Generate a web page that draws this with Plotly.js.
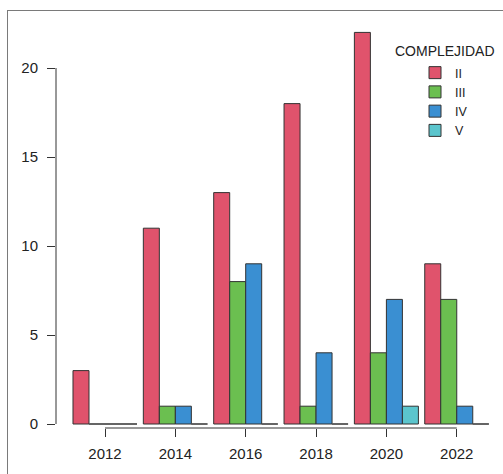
<!DOCTYPE html>
<html>
<head>
<meta charset="utf-8">
<script src="https://cdn.plot.ly/plotly-3.0.1.min.js"></script>
<style>
  html, body { margin: 0; padding: 0; background: #fff; }
  #wrap { position: relative; width: 503px; height: 474px; }
  #chart { width: 503px; height: 474px; }
  #frame { position: absolute; left: 7px; top: 10px; width: 496px; height: 464px;
           border-left: 1px solid #7a7a7a; border-top: 1px solid #7a7a7a; pointer-events: none; box-sizing: border-box; }
</style>
</head>
<body>
<div id="wrap">
  <div id="chart"></div>
  <div id="frame"></div>
</div>
<script>
// ---- data ----
const years = ["2012", "2014", "2016", "2018", "2020", "2022"];
const seriesNames = ["II", "III", "IV", "V"];
const valuesII  = [3, 11, 13, 18, 22, 9];
const valuesIII = [0, 1, 8, 1, 4, 7];
const valuesIV  = [0, 1, 9, 4, 7, 1];
const valuesV   = [0, 0, 0, 0, 1, 0];
const yTicks = [0, 5, 10, 15, 20];
const legendTitle = "COMPLEJIDAD";

// ---- styles ----
const colors = ["#E0536C", "#6BBF50", "#3A8FD2", "#5BC5CD"];
const allValues = [valuesII, valuesIII, valuesIV, valuesV];
const bargap = 0.09;
const nS = allValues.length;
const bw = (1 - bargap) / nS;

const traces = allValues.map((vals, s) => ({
  type: "bar",
  name: seriesNames[s],
  x: years,
  y: vals,
  marker: { color: colors[s], line: { color: "#333333", width: 1 } },
  hoverinfo: "x+y+name"
}));

const shapes = [];
// axis lines limited to the tick span, as in the original
shapes.push({ type: "line", xref: "paper", yref: "y", x0: 0, x1: 0, y0: yTicks[0], y1: yTicks[yTicks.length - 1],
              line: { color: "#333333", width: 1 } });
shapes.push({ type: "line", xref: "x", yref: "paper", x0: 0, x1: years.length - 1, y0: 0, y1: 0,
              line: { color: "#333333", width: 1 } });
// zero-height bars drawn as flat outlines
allValues.forEach((vals, s) => {
  vals.forEach((v, g) => {
    if (v === 0) {
      const c = g - (1 - bargap) / 2 + (s + 0.5) * bw;
      shapes.push({ type: "line", xref: "x", yref: "y", x0: c - bw / 2, x1: c + bw / 2, y0: 0, y1: 0,
                    line: { color: "#666666", width: 1.5 } });
    }
  });
});

const L = 56, R = 7, T = 20, B = 46;
const W = 503 - L - R, H = 474 - T - B;

const layout = {
  width: 503, height: 474,
  margin: { l: L, r: R, t: T, b: B, pad: 0 },
  paper_bgcolor: "rgba(0,0,0,0)",
  plot_bgcolor: "rgba(0,0,0,0)",
  barmode: "group",
  bargap: bargap,
  bargroupgap: 0,
  font: { family: "Liberation Sans, Arial, sans-serif", color: "#222222" },
  xaxis: {
    type: "category",
    range: [-0.6965, 5.558],
    showgrid: false, zeroline: false, showline: false,
    ticks: "outside", ticklen: 8, tickcolor: "#333333", tickwidth: 1,
    tickfont: { size: 15, color: "#222222" },
    ticklabelstandoff: 4,
    fixedrange: true
  },
  yaxis: {
    range: [-0.2247, 22.697],
    showgrid: false, zeroline: false, showline: false,
    tickmode: "array", tickvals: yTicks, ticktext: yTicks.map(String),
    ticks: "outside", ticklen: 8, tickcolor: "#333333", tickwidth: 1,
    tickfont: { size: 15, color: "#222222" },
    ticklabelstandoff: 6,
    fixedrange: true
  },
  showlegend: true,
  legend: {
    x: (415 - L) / W, y: 1 - (58 - T) / H,
    xanchor: "left", yanchor: "top",
    bgcolor: "rgba(0,0,0,0)",
    font: { size: 12.5, color: "#222222" },
    traceorder: "normal",
    itemclick: false, itemdoubleclick: false
  },
  annotations: [{
    text: legendTitle, xref: "paper", yref: "paper",
    x: (393 - L) / W, y: 1 - (51.5 - T) / H,
    xanchor: "left", yanchor: "middle", showarrow: false,
    font: { size: 14, color: "#222222" }
  }],
  shapes: shapes
};

Plotly.newPlot("chart", traces, layout, { displayModeBar: false, staticPlot: true });
</script>
</body>
</html>
